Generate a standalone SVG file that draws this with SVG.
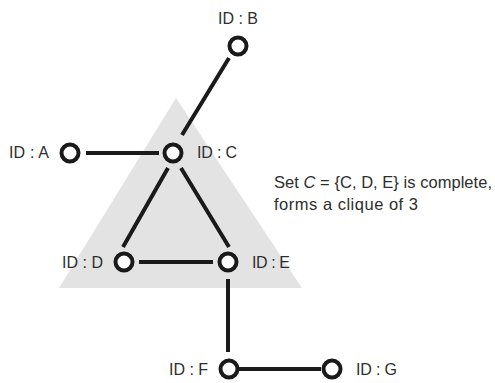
<svg xmlns="http://www.w3.org/2000/svg" width="495" height="383" viewBox="0 0 495 383">
  <style>
    .node { fill: #ffffff; stroke: #1a1a1a; stroke-width: 4; }
    .edge { stroke: #1a1a1a; stroke-width: 4; fill: none; }
    .label { font-family: "Liberation Sans", Arial, sans-serif; font-size: 16px; fill: #2e2e2e; }
    .note { font-family: "Liberation Sans", Arial, sans-serif; font-size: 16.5px; fill: #2e2e2e; }
  </style>
  <rect width="495" height="383" fill="#ffffff"/>
  <!-- clique region -->
  <polygon id="clique-region" points="176,98 59,288 302,288" fill="#e3e3e3"/>

  <g id="connectors">
    <line class="edge" x1="229" y1="58" x2="182" y2="135"/>
    <line class="edge" x1="86" y1="153" x2="159" y2="153"/>
    <line class="edge" x1="168" y1="168" x2="123" y2="247"/>
    <line class="edge" x1="181" y1="168" x2="229" y2="247"/>
    <line class="edge" x1="139" y1="262" x2="213" y2="262"/>
    <line class="edge" x1="228" y1="279" x2="228" y2="352"/>
    <line class="edge" x1="237" y1="369" x2="321" y2="369"/>
  </g>

  <g id="node-B">
    <circle class="node" cx="238" cy="46" r="8.5"/>
    <text class="label" x="238" y="24" text-anchor="middle">ID : B</text>
  </g>
  <g id="node-A">
    <circle class="node" cx="70" cy="153" r="8.5"/>
    <text class="label" x="9" y="158" textLength="40">ID : A</text>
  </g>
  <g id="node-C">
    <circle class="node" cx="173" cy="153" r="8.5"/>
    <text class="label" x="197" y="158" textLength="40">ID : C</text>
  </g>
  <g id="node-D">
    <circle class="node" cx="124" cy="262" r="8.5"/>
    <text class="label" x="62" y="268" textLength="41">ID : D</text>
  </g>
  <g id="node-E">
    <circle class="node" cx="228" cy="262" r="8.5"/>
    <text class="label" x="252" y="268" textLength="38">ID : E</text>
  </g>
  <g id="node-F">
    <circle class="node" cx="229" cy="369" r="8.5"/>
    <text class="label" x="169" y="375" textLength="39">ID : F</text>
  </g>
  <g id="node-G">
    <circle class="node" cx="332" cy="369" r="8.5"/>
    <text class="label" x="356" y="375" textLength="41">ID : G</text>
  </g>

  <g id="note">
    <text class="note" x="274" y="188" textLength="218">Set <tspan font-style="italic">C</tspan> = {C, D, E} is complete,</text>
    <text class="note" x="274" y="210" textLength="144">forms a clique of 3</text>
  </g>
</svg>
